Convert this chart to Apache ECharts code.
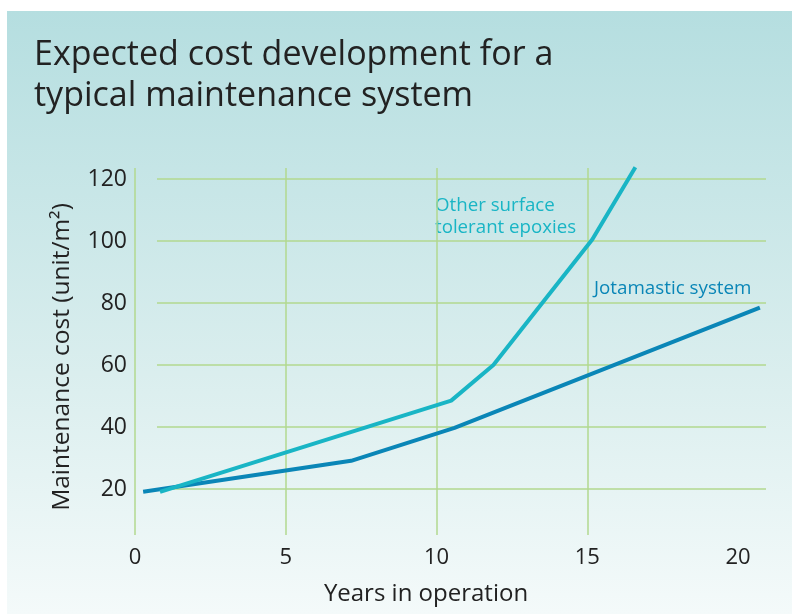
<!DOCTYPE html>
<html>
<head>
<meta charset="utf-8">
<title>Expected cost development</title>
<script src="https://cdn.jsdelivr.net/npm/echarts@6/dist/echarts.min.js"></script>
<style>
    html, body { margin: 0; padding: 0; background: #fff; }
    #chart { width: 792px; height: 614px; }
</style>
</head>
<body>
<div id="chart"></div>
<script>
    // values
    var xTicks = [0, 5, 10, 15, 20];
    var yTicks = [20, 40, 60, 80, 100, 120];
    var jotaYears = [0.27, 7.17, 10.6, 20.73];
    var jotaCost = [19.1, 29.1, 39.7, 78.5];
    var otherYears = [0.83, 10.49, 11.89, 15.17, 16.6];
    var otherCost = [19.1, 48.5, 60, 100.5, 123.8];

    var FONT = '"Open Sans", "Noto Sans", sans-serif';
    var gridColor = '#b2d98f';

    function pairs(xs, ys) {
        var res = [];
        for (var i = 0; i < xs.length; i++) {
            res.push([xs[i], ys[i]]);
        }
        return res;
    }

    (function () {
        var myChart = echarts.init(document.getElementById('chart'));
        var option = {
            backgroundColor: '#ffffff',
            animation: false,
            textStyle: { fontFamily: FONT },
            title: {
                text: 'Expected cost development for a\ntypical maintenance system',
                left: 29,
                top: 30,
                textStyle: {
                    fontFamily: FONT,
                    fontSize: 34,
                    fontWeight: 'normal',
                    lineHeight: 41,
                    color: '#222'
                }
            },
            graphic: [
                {
                    type: 'rect',
                    z: -10,
                    silent: true,
                    shape: { x: 7, y: 11, width: 785, height: 603 },
                    style: {
                        fill: new echarts.graphic.LinearGradient(0, 0, 0, 1, [
                            { offset: 0, color: '#b5dee0' },
                            { offset: 0.6, color: '#daeeee' },
                            { offset: 1, color: '#f4fafa' }
                        ])
                    }
                },
                {
                    type: 'text',
                    x: 62,
                    y: 357,
                    rotation: Math.PI / 2,
                    style: {
                        text: 'Maintenance cost (unit/m\u00b2)',
                        font: '24.5px ' + FONT,
                        fill: '#222',
                        align: 'center',
                        verticalAlign: 'middle'
                    }
                },
                {
                    type: 'text',
                    x: 426,
                    y: 594,
                    style: {
                        text: 'Years in operation',
                        font: '24px ' + FONT,
                        fill: '#222',
                        align: 'center',
                        verticalAlign: 'middle'
                    }
                },
                {
                    type: 'text',
                    x: 435,
                    y: 195,
                    style: {
                        text: 'Other surface\ntolerant epoxies',
                        font: '18.7px ' + FONT,
                        lineHeight: 22,
                        fill: '#19b5c5',
                        align: 'left',
                        verticalAlign: 'top'
                    }
                },
                {
                    type: 'text',
                    x: 594,
                    y: 289,
                    style: {
                        text: 'Jotamastic system',
                        font: '18.8px ' + FONT,
                        fill: '#0a86b7',
                        align: 'left',
                        verticalAlign: 'middle'
                    }
                }
            ],
            grid: [
                { left: 135, right: 24, top: 179, bottom: 125 },  // data (x 0..21)
                { left: 135, right: 54, top: 168, bottom: 79 },   // vertical lines + x labels
                { left: 157, right: 26, top: 179, bottom: 125 }   // horizontal lines
            ],
            xAxis: [
                { gridIndex: 0, type: 'value', min: 0, max: 21, show: false },
                {
                    gridIndex: 1, type: 'value', min: xTicks[0], max: xTicks[xTicks.length - 1], interval: 5,
                    axisLine: { show: false },
                    axisTick: { show: false },
                    axisLabel: { margin: 12, fontSize: 22, color: '#222', fontFamily: FONT },
                    splitLine: { show: true, showMaxLine: false, lineStyle: { color: gridColor, width: 1.5 } }
                },
                { gridIndex: 2, type: 'value', min: 0, max: 1, show: false }
            ],
            yAxis: [
                {
                    gridIndex: 0, type: 'value', min: yTicks[0], max: yTicks[yTicks.length - 1], interval: 20,
                    axisLine: { show: false },
                    axisTick: { show: false },
                    axisLabel: { margin: 8, fontSize: 23, color: '#222', fontFamily: FONT },
                    splitLine: { show: false }
                },
                { gridIndex: 1, type: 'value', min: 0, max: 1, show: false },
                {
                    gridIndex: 2, type: 'value', min: yTicks[0], max: yTicks[yTicks.length - 1], interval: 20,
                    axisLine: { show: false },
                    axisTick: { show: false },
                    axisLabel: { show: false },
                    splitLine: { show: true, lineStyle: { color: gridColor, width: 1.5 } }
                }
            ],
            series: [
                {
                    name: 'Jotamastic system',
                    type: 'line',
                    xAxisIndex: 0,
                    yAxisIndex: 0,
                    clip: false,
                    showSymbol: false,
                    data: pairs(jotaYears, jotaCost),
                    lineStyle: { color: '#0a86b7', width: 4 },
                    z: 3
                },
                {
                    name: 'Other surface tolerant epoxies',
                    type: 'line',
                    xAxisIndex: 0,
                    yAxisIndex: 0,
                    clip: false,
                    showSymbol: false,
                    data: pairs(otherYears, otherCost),
                    lineStyle: { color: '#19b5c5', width: 4 },
                    z: 4
                }
            ]
        };
        myChart.setOption(option);
    }());
</script>
</body>
</html>
